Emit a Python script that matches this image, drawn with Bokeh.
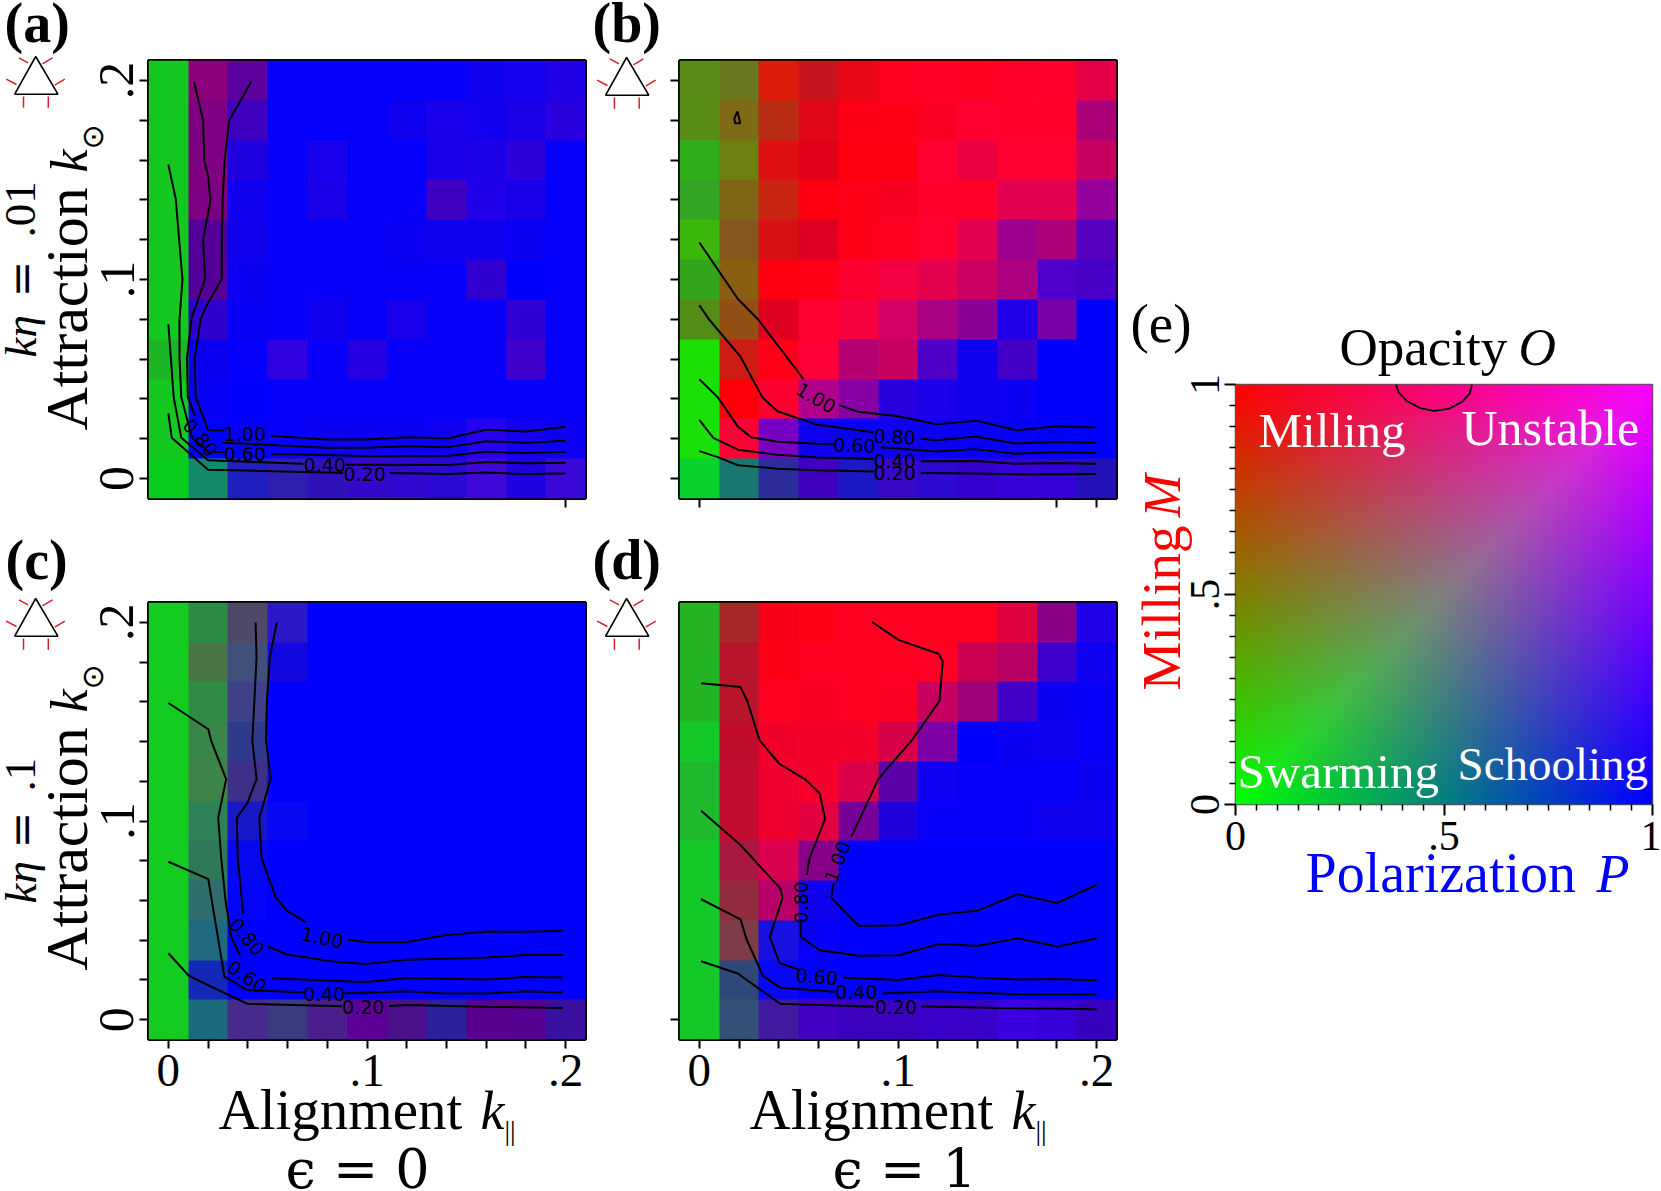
import math
import numpy as np
from bokeh.embed import file_html
from bokeh.resources import INLINE
from bokeh.core.properties import value
from bokeh.layouts import column, row
from bokeh.models import FixedTicker, Label, Range1d, Spacer
from bokeh.plotting import figure

# ---------- grid ----------
k_alignment = [0, .02, .04, .06, .08, .10, .12, .14, .16, .18, .20]
k_attraction = [.20, .18, .16, .14, .12, .10, .08, .06, .04, .02, 0]   # top row first
B = "#0000ff"

# ---------- cell values: milling / swarming / polarization as rr gg bb ----------
cells_a = [
 ["#14c820","#8b007b","#5c00a0","#0400fb","#0400fb","#0400fb","#0400fb","#0800f8","#1000f0","#1400ee","#2000e4"],
 ["#14c820","#7f0083","#4000c0","#0400fb","#0400fb","#0400fb","#1000f0","#1800ec","#1400f0","#1c00e8","#2800e0"],
 ["#14c820","#800084","#2000e0","#0800f8","#1800ee","#0400fb","#0400fb","#1a00ea","#1c00e8","#2c00dc","#0400fa"],
 ["#14c820","#7d0082","#1000f0","#0800f8","#1c00ea","#0400fb","#0800f8","#4000c4","#2000e8","#1800ea","#0400fc"],
 ["#14c820","#55009a","#1000ee","#0800f8","#0800f8","#0800f8","#0c00f4","#1000f0","#1000f0","#0c00f4","#0400fc"],
 ["#14c820","#56009a","#0c00f2","#0800f8","#0800f8","#0800f8","#0800f8","#0800f8","#3000d0",B,"#0400fc"],
 ["#14c820","#3000cc","#0800f6","#0800f8","#1000f0","#0400fb","#1800ec","#0800f8","#0800f8","#3000d4","#0400fc"],
 ["#1cb525","#0c00f0","#0400fb","#3000e0","#0800f8","#2800e4","#0800f8","#0800f8","#0800f8","#4000cc","#0400fc"],
 ["#14c820","#0800f5",B,"#0400fb","#0400fb","#0400fb","#0400fb","#0400fb","#0400fb","#0400fb","#0400fb"],
 ["#14c820",B,"#0400fa","#0800f8","#0c00f4","#0c00f4","#0c00f4","#1000f0","#2800f0","#1400f0","#0c00f4"],
 ["#0ace1e","#108a68","#2020c0","#2e1fb0","#3010b8","#3408c8","#3008d0","#2c08d4","#4008d8","#2000e0","#3a08d8"],
]
cells_b = [
 ["#5a8a18","#6b7820","#dc1c08","#c8141c","#e80818","#ff0020","#ff0024","#ff0020","#fc0028","#ff002c","#e40048"],
 ["#588c14","#7f6a18","#b82c14","#e00818","#fc0018","#ff0018","#fc0024","#ff0030","#ff0028","#ff0028","#ac0078"],
 ["#30b018","#6e8010","#e01010","#e00018","#ff0010","#ff0010","#ff0030","#ec0044","#ff0030","#ff0030","#c80060"],
 ["#34a424","#806614","#c82410","#ff0010","#ff0018","#f80020","#ff0028","#ff0028","#e40050","#e40050","#96009c"],
 ["#3cb80c","#84581c","#d81014","#e00024","#ff0018","#ff0020","#ff0030","#e40050","#9c008c","#ac0078","#5800c0"],
 ["#34a41c","#8a5e10","#ff0010","#ff0018","#fc0030","#f40040","#e4004c","#cc0060","#ac0080","#5000cc","#4800c8"],
 ["#548c18","#945014","#e00020","#ff0030","#f80040","#d40064","#aa0084","#8c0098","#2000e8","#7800a8",B],
 ["#1ce004","#cc1c14","#ff0018","#ff0038","#b40070","#c80060","#5000c8","#1000f0","#4400c8",B,B],
 ["#18e008","#ff0008","#fc0030","#b0008c","#8800a4","#2800e0","#1c00ec","#1000f0","#0c00f4",B,B],
 ["#18e008","#ff0034","#7800c0","#1000f0","#0c00f4","#1000f0","#0c00f4","#0800f8","#0800f8",B,B],
 ["#08d02c","#187870","#2c2c9c","#4000c0","#1c18c8","#3808c8","#2c08d0","#3400d0","#3800d8","#3400d8","#2410b8"],
]
cells_c = [
 ["#14cc20","#2c8c44","#504868","#2c18c8",B,B,B,B,B,B,B],
 ["#14cc20","#4a7545","#40507a","#1408e0",B,B,B,B,B,B,B],
 ["#14cc20","#2e8c45","#3f4288",B,B,B,B,B,B,B,B],
 ["#14cc20","#3a8548","#303a8c",B,B,B,B,B,B,B,B],
 ["#14cc20","#3e8448","#3e3088",B,B,B,B,B,B,B,B],
 ["#14cc20","#2e8258","#1818c8","#0808f4",B,B,B,B,B,B,B],
 ["#14cc20","#2f7858","#0808f0",B,B,B,B,B,B,B,B],
 ["#14cc20","#2f6e6c","#0404f8",B,B,B,B,B,B,B,B],
 ["#14cc20","#1f6a80",B,B,B,B,B,B,B,B,B],
 ["#14cc20","#1428b8",B,B,B,B,B,B,B,B,B],
 ["#14cc20","#186a7c","#482a8c","#3a3a80","#4a1e8c","#5c0098","#4c108c","#2c209c","#580090","#560094","#3a10a0"],
]
cells_d = [
 ["#24b424","#a82828","#f80018","#ff0018","#ff0020","#ff0020","#ff0020","#ff0020","#e00040","#8c0088","#2000e8"],
 ["#24b424","#b8142c","#fc0018","#ff0020","#ff0020","#ff0020","#ff0024","#cc0050","#b80064","#4000cc","#1000f0"],
 ["#24b424","#b8142c","#ff0020","#fa0022","#ff0020","#fc0024","#c80060","#a00078","#4400c8","#0c00f4","#0800f8"],
 ["#14c828","#c00c2c","#f00028","#f40028","#f40028","#d80048","#7c00a4",B,"#0c00f4","#1000f0","#0800f8"],
 ["#20b82c","#c40c30","#f00030","#f8002c","#dc0048","#5c00a8","#1000f4","#0800f8","#0800f8","#0400fc","#0c00f4"],
 ["#20b82c","#c40c30","#f00030","#e40040","#780098","#2000dc","#0800f8","#0800f8","#0800f8","#1000f0","#1000f0"],
 ["#14c828","#a81840","#dc0050","#880088",B,B,B,B,B,B,B],
 ["#14c828","#942c40","#b80068","#1000f0",B,B,B,B,B,B,B],
 ["#14c828","#7c3c48","#1810e0","#0800f8",B,B,B,B,B,B,B],
 ["#14c828","#304878","#0808f4",B,B,B,B,B,B,B,B],
 ["#14c828","#345078","#401aa0","#4400c4","#3c00c0","#3c00c0","#3800c8","#3800c8","#3c00e0","#3800d8","#3800c0"],
]

# ---------- contours (k_alignment, k_attraction), split where labels sit ----------
contours_a = [
 [(0,.0328),(.0017,.0205),(.02,.0045),(.088,.0028)],
 [(.1115,.0028),(.141,.0023),(.16,.003),(.18,.0023),(.2,.0025)],
 [(0,.0775),(.0027,.0408),(.0065,.0205),(.02,.0092),(.068,.0075)],
 [(.0892,.007),(.141,.0068),(.16,.0083),(.18,.0077),(.2,.008)],
 [(0,.1578),(.0037,.1406),(.0071,.1),(.0056,.08),(.0056,.0607),(.0065,.0408),(.0119,.0205),(.02,.0135),(.0283,.0133)],
 [(.0517,.0125),(.0988,.0113),(.141,.0115),(.16,.0135),(.18,.0128),(.2,.0135)],
 [(.0129,.1993),(.0175,.1797),(.0181,.1597),(.02,.1522),(.0212,.1398),(.0175,.1198),(.0185,.1002),(.0117,.0807),(.0094,.0607),(.0098,.0408),(.0133,.0316)],
 [(.0273,.018),(.0796,.0155),(.0988,.0155),(.12,.0163),(.141,.0158),(.16,.0188),(.18,.018),(.2,.019)],
 [(.0417,.1993),(.0306,.1797),(.0283,.1597),(.0273,.1398),(.0269,.1198),(.0269,.1002),(.019,.0865),(.0162,.0799),(.0133,.0607),(.0138,.0408),(.02,.0245),(.0283,.0241)],
 [(.0517,.0215),(.0796,.0196),(.0988,.0196),(.12,.0208),(.141,.0203),(.16,.0246),(.18,.0236),(.2,.026)],
]
contours_b = [
 [(0,.0138),(.0093,.0108),(.0194,.0067),(.0393,.005),(.0596,.0042),(.0878,.0035)],
 [(.1115,.0028),(.1389,.0025),(.1591,.0022),(.1996,.0023)],
 [(0,.0295),(.007,.0205),(.0194,.0145),(.0393,.012),(.0596,.0106),(.0878,.0098)],
 [(.1115,.0087),(.1389,.0088),(.1591,.0075),(.1794,.0078),(.1996,.0075)],
 [(0,.0499),(.0093,.0408),(.0194,.0261),(.0261,.0208),(.0393,.0185),(.0596,.0175),(.0684,.0171)],
 [(.0913,.0158),(.1195,.0136),(.1389,.0148),(.1591,.0125),(.1794,.0133),(.1996,.0128)],
 [(0,.087),(.0049,.0799),(.0208,.0611),(.0317,.0408),(.0393,.0338),(.0596,.027),(.0878,.0233)],
 [(.1115,.02),(.1195,.0193),(.1389,.0211),(.1591,.0176),(.1794,.0185),(.1996,.018)],
 [(0,.1186),(.0194,.0902),(.0296,.0799),(.0525,.0499)],
 [(.0705,.0369),(.0798,.0336),(.0992,.0314),(.1195,.0273),(.1397,.029),(.1596,.0243),(.1794,.0263),(.1996,.0256)],
 [(.0192,.1844),(.0206,.1785),(.018,.1785),(.0176,.1809),(.0192,.1844)],
]
contours_c = [
 [(0,.0334),(.0103,.0221),(.0176,.0185),(.0397,.008),(.0875,.0067)],
 [(.1111,.0069),(.1201,.0074),(.1603,.0065),(.1987,.0059)],
 [(0,.0795),(.0201,.0707),(.0282,.0217),(.0397,.0149),(.0684,.0137)],
 [(.0885,.0132),(.1201,.0143),(.1393,.0132),(.1603,.0132),(.1795,.0143),(.1987,.0137)],
 [(0,.1594),(.0201,.1462),(.0215,.1405),(.0291,.1211),(.0251,.1016),(.0266,.0816),(.0287,.0606),(.0316,.0416),(.0362,.0322)],
 [(.0521,.0208),(.099,.0189),(.1201,.021),(.1603,.0202),(.1795,.0215),(.1987,.0212)],
 [(.0439,.2),(.0444,.1825),(.0423,.1405),(.0444,.1211),(.0397,.1089),(.0345,.1016),(.0349,.0816),(.0377,.0532)],
 [(.0502,.0368),(.0598,.0328),(.0818,.0294),(.099,.028),(.1201,.0301),(.1603,.0313),(.1795,.0326),(.1987,.0326)],
 [(.0546,.2),(.0511,.1825),(.0496,.1605),(.0492,.1405),(.0515,.1211),(.0458,.1016),(.0469,.0816),(.054,.0616),(.0598,.0547),(.0693,.049)],
 [(.0904,.0402),(.099,.0391),(.1201,.0391),(.1393,.0425),(.1603,.0444),(.1795,.0442),(.1987,.0448)],
]
contours_d = [
 [(.0009,.0294),(.0197,.0231),(.0214,.0217),(.0408,.008),(.0879,.0065)],
 [(.1116,.0067),(.1511,.0059),(.2,.0052)],
 [(.0009,.0606),(.0207,.0505),(.0237,.0406),(.032,.0221),(.0408,.016),(.0685,.0141)],
 [(.0923,.0132),(.1195,.0143),(.1608,.0128),(.2,.0126)],
 [(.0009,.1052),(.0207,.0879),(.0409,.0658),(.0418,.0612),(.0355,.0416),(.0404,.0284),(.0501,.0252)],
 [(.0721,.0212),(.1002,.02),(.1204,.0225),(.1388,.0212),(.1608,.0202),(.1793,.0204),(.2,.0198)],
 [(.0009,.1693),(.0207,.1674),(.0241,.1605),(.0304,.1405),(.0404,.1287),(.0531,.1211),(.0606,.1138),(.0633,.1012),(.0554,.081),(.0541,.0728)],
 [(.051,.0505),(.0511,.0416),(.0606,.0349),(.0803,.0322),(.1005,.0324),(.1204,.0381),(.1402,.0372),(.1603,.041),(.1801,.0368),(.2,.0408)],
 [(.087,.2002),(.1002,.1912),(.1204,.1842),(.1225,.1804),(.1209,.1605),(.1072,.1409),(.09,.1211),(.0844,.1089),(.0765,.0921)],
 [(.0677,.069),(.0663,.0614),(.0803,.0471),(.1005,.0475),(.1204,.0528),(.1402,.0549),(.1603,.0631),(.1801,.0587),(.2,.0679)],
]

# label: text, k_alignment, k_attraction, angle in degrees
clabels_a = [("1.00",.0385,.0236,0),("0.80",.0162,.0216,-50),("0.60",.0385,.0133,0),("0.40",.0787,.0078,0),("0.20",.0988,.0033,0)]
clabels_b = [("1.00",.0587,.0416,-30),("0.80",.0983,.0221,-3),("0.60",.0781,.0178,-2),("0.40",.0983,.01,0),("0.20",.0983,.0038,0)]
clabels_c = [("1.00",.0776,.0423,-12),("0.80",.0397,.0427,-50),("0.60",.0397,.0227,-35),("0.40",.0785,.0141,0),("0.20",.0981,.0074,0)]
clabels_d = [("1.00",.0694,.0805,70),("0.80",.0513,.0601,90),("0.60",.0592,.0227,-5),("0.40",.0791,.0147,0),("0.20",.0989,.0074,0)]

opacity_arc_P = [.385,.391,.412,.445,.476,.511,.544,.562,.567]
opacity_arc_M = [1,.981,.96,.943,.937,.942,.959,.979,1]

SERIF = "Liberation Serif"
TICK_ALL = [.02,.04,.06,.08,.12,.14,.16,.18]
W, H = 1661, 1191
RAISE = .35   # the page draws "alphabetic" text this many ems below its anchor

# ---------- sheet under the panels: holds everything that lies outside their frames ----------
sheet = figure(width=W, height=H, x_range=Range1d(0, W), y_range=Range1d(H, 0),
               min_border=0, x_axis_location=None, y_axis_location=None,
               toolbar_location=None, output_backend="svg",
               background_fill_color="white", border_fill_color="white")
sheet.outline_line_color = None
sheet.grid.visible = False


def txt(X, Y, text, size, color="black", style="normal", angle=0, font=SERIF):
    t = math.radians(angle)
    X -= math.sin(t) * RAISE * size
    Y -= math.cos(t) * RAISE * size
    sheet.text([X], [Y], text=[text], text_font=value(font), text_font_size=f"{size}px",
               text_color=color, text_font_style=style, angle=t,
               text_align="left", text_baseline="alphabetic")


def icon(dx, dy):
    sheet.patch([35.2 + dx, 14.2 + dx, 57.4 + dx, 35.2 + dx], [56 + dy, 93.7 + dy, 93.7 + dy, 56 + dy],
                fill_color="white", line_color="black", line_width=1.6)
    for s in ((18.4, 57.3, 27.6, 62.3), (52, 57.3, 42, 63.3), (5.7, 78.7, 16, 84),
              (64.3, 78.7, 54.3, 84.7), (23, 96, 23, 107.3), (47.8, 96, 47.8, 107.3)):
        sheet.line([s[0] + dx, s[2] + dx], [s[1] + dy, s[3] + dy], line_color="#d8202a", line_width=1.5)


def panel(w, h, left, right, top, bottom, xr, yr):
    f = figure(width=w, height=h, x_range=Range1d(*xr), y_range=Range1d(*yr),
               min_border_left=left, min_border_right=right,
               min_border_top=top, min_border_bottom=bottom,
               toolbar_location=None, output_backend="svg",
               background_fill_color=None, border_fill_color=None)
    f.grid.visible = False
    f.outline_line_color = "black"
    f.outline_line_width = 3
    f.outline_line_alpha = 1
    return f


def style_axes(f, xticks, xminor, yticks, yminor, show_x, show_y, xsize=47, ysize=50,
               major=9, minor=9, xov=None, yov=None):
    for ax, ticks, mn, show, ov, size in ((f.xaxis[0], xticks, xminor, show_x, xov, xsize),
                                          (f.yaxis[0], yticks, yminor, show_y, yov, ysize)):
        ax.ticker = FixedTicker(ticks=ticks, minor_ticks=mn)
        ax.axis_line_color = None
        ax.major_tick_in = 0
        ax.major_tick_out = major
        ax.minor_tick_in = 0
        ax.minor_tick_out = minor
        ax.major_tick_line_width = 2
        ax.minor_tick_line_width = 2 if minor == major else 1.5
        ax.major_tick_line_color = "black"
        ax.minor_tick_line_color = "black"
        ax.major_label_text_font = SERIF
        ax.major_label_text_font_size = f"{size}px"
        ax.major_label_text_color = "black" if show else None
        ax.major_label_standoff = 6
        if ov:
            ax.major_label_overrides = ov
    f.yaxis[0].major_label_orientation = "vertical"


OV = {0: "0", .1: ".1", .2: ".2"}


def to_rgba(cells, rep=40):
    n = len(k_attraction)
    a = np.zeros((n, n, 4), dtype=np.uint8)
    for j in range(n):
        for i in range(n):
            c = cells[n - 1 - j][i]
            a[j, i] = (int(c[1:3], 16), int(c[3:5], 16), int(c[5:7], 16), 255)
    a = np.repeat(np.repeat(a, rep, axis=0), rep, axis=1)
    return a.view(dtype=np.uint32).reshape(a.shape[:2])


def heat(f, cells, contours, clabels):
    x0 = k_alignment[0] - .01
    y0 = k_attraction[-1] - .01
    f.image_rgba(image=[to_rgba(cells)], x=x0, y=y0, dw=.22, dh=.22)
    f.multi_line([[p[0] for p in c] for c in contours], [[p[1] for p in c] for c in contours],
                 line_color="black", line_width=2)
    f.text([c[1] for c in clabels], [c[2] for c in clabels], text=[c[0] for c in clabels],
           angle=[math.radians(c[3]) for c in clabels], text_font=value("DejaVu Sans"),
           text_font_size="19px", text_align="center", text_baseline="middle", text_color="black",
           y_offset=2)


RNG = (-.01, .21)
pa = panel(625, 535, 148, 40, 60, 37, RNG, RNG)
pb = panel(505, 535, 54, 14, 60, 37, RNG, RNG)
pc = panel(625, 656, 148, 40, 67, 152, RNG, RNG)
pd = panel(505, 656, 54, 14, 67, 152, RNG, RNG)

heat(pa, cells_a, contours_a, clabels_a)
heat(pb, cells_b, contours_b, clabels_b)
heat(pc, cells_c, contours_c, clabels_c)
heat(pd, cells_d, contours_d, clabels_d)

style_axes(pa, [.2], [], [0, .1, .2], TICK_ALL, False, True, yov=OV)
style_axes(pb, [0, .18, .2], [], [0, .1, .2], TICK_ALL, False, False)
style_axes(pc, [0, .1, .2], TICK_ALL, [0, .1, .2], TICK_ALL, True, True, xov=OV, yov=OV)
style_axes(pd, [0, .1, .2], TICK_ALL, [0], [], True, False, xov=OV)

# panel letters and icons
txt(4, 42, "(a)", 56, style="bold")
txt(592, 42, "(b)", 56, style="bold")
txt(5, 579, "(c)", 56, style="bold")
txt(592, 579, "(d)", 56, style="bold")
icon(0, 0); icon(590.9, 1); icon(0, 542); icon(590.9, 542)

# rotated titles
for base_low, ktext, ny in ((430, ".01", (357, 297, 237)), (970, ".1", (903, 848, 791))):
    txt(87, base_low, "Attraction", 60, angle=90)
    top = base_low - 258
    txt(87, top, "k", 52, style="italic", angle=90)
    txt(102, top - 23, "⊙", 30, angle=90, font="DejaVu Sans")
    txt(36, ny[0], "kη", 45, style="italic", angle=90)
    txt(36, ny[1], "=", 44, angle=90, font="DejaVu Serif")
    txt(36, ny[2], ktext, 45, angle=90)

# bottom titles
for off, eps, ex in ((0, "ϵ = 0", 285), (531, "ϵ = 1", 832)):
    txt(218 + off, 1129, "Alignment", 57)
    txt(480 + off, 1129, "k", 54, style="italic")
    txt(504 + off, 1140, "||", 28)
    txt(ex, 1188, eps, 54, font="DejaVu Serif")

# ---------- colour key (e) ----------
N = 256
gP, gM = np.meshgrid(np.linspace(0, 1, N), np.linspace(0, 1, N))
key = np.zeros((N, N), dtype=np.uint32)
view = key.view(dtype=np.uint8).reshape((N, N, 4))
view[..., 0] = (gM * 255).astype(np.uint8)
view[..., 1] = ((1 - np.maximum(gM, gP)) * 255).astype(np.uint8)
view[..., 2] = (gP * 255).astype(np.uint8)
view[..., 3] = 255

pe = panel(531, 620, 105, 9, 104, 96, (0, 1), (0, 1))
pe.image_rgba(image=[key], x=0, y=0, dw=1, dh=1)
pe.line(opacity_arc_P, opacity_arc_M, line_color="black", line_width=1.8)
pe.outline_line_width = 1.5
pe.outline_line_color = "#555555"
minors = [round(.05 * i, 2) for i in range(1, 20) if i != 10]
OVE = {0: "0", .5: ".5", 1: "1"}
style_axes(pe, [0, .5, 1], minors, [0, .5, 1], minors, True, True, xsize=42, ysize=42, major=11, minor=6, xov=OVE, yov=OVE)


def inside(X, Y, text, size):
    # frame of (e): page x 1235..1652, y 384..804
    Y -= RAISE * size
    pe.add_layout(Label(x=(X - 1235) / 417, y=(804 - Y) / 420, text=text, text_font=SERIF,
                        text_font_size=f"{size}px", text_color="white",
                        text_align="left", text_baseline="alphabetic"))


inside(1258, 447, "Milling", 49)
inside(1461, 445, "Unstable", 50)
inside(1237, 788, "Swarming", 49)
inside(1457, 780, "Schooling", 47)

txt(1130, 342, "(e)", 55)
txt(1339, 365, "Opacity", 53)
txt(1518, 365, "O", 52, style="italic")
txt(1305, 892, "Polarization", 56, color="#0000ff")
txt(1596, 892, "P", 54, color="#0000ff", style="italic")
txt(1180, 690, "Milling", 55, color="#ff0000", angle=90)
txt(1180, 517, "M", 52, color="#ff0000", style="italic", angle=90)

panels = row(column(pa, pc, spacing=0),
             column(pb, pd, spacing=0),
             column(Spacer(width=531, height=280), pe, spacing=0),
             spacing=0, margin=(-H, 0, 0, 0))
page = column(sheet, panels, spacing=0, margin=(0, 0, 0, 0))
open("out.html", "w").write(file_html(page, INLINE))
